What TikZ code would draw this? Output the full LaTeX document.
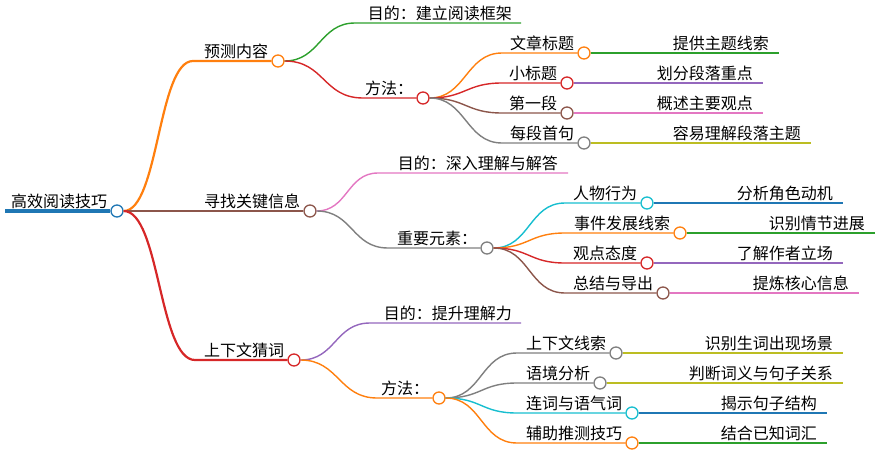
\documentclass[tikz,border=0pt]{standalone}
\usepackage{fontspec}
\setmainfont{Noto Sans CJK SC}
\usepackage{xcolor}
\usetikzlibrary{positioning}

\definecolor{tblue}{HTML}{1F77B4}
\definecolor{torange}{HTML}{FF7F0E}
\definecolor{tgreen}{HTML}{2CA02C}
\definecolor{tred}{HTML}{D62728}
\definecolor{tpurple}{HTML}{9467BD}
\definecolor{tbrown}{HTML}{8C564B}
\definecolor{tpink}{HTML}{E377C2}
\definecolor{tgray}{HTML}{7F7F7F}
\definecolor{tolive}{HTML}{BCBD22}
\definecolor{tcyan}{HTML}{17BECF}

\tikzset{
  dot/.style={circle, draw, fill=white, line width=1.3pt, minimum size=12pt, inner sep=0pt},
  txt/.style={inner sep=0pt, font=\fontsize{16pt}{18pt}\selectfont},
  lv1/.style={line width=2.2pt},
  lv2/.style={line width=1.4pt},
}

\begin{document}
\begin{tikzpicture}[x=1pt, y=-1pt]
\useasboundingbox (0,0) rectangle (880,466);

% Root
\coordinate (root-s) at (5,211);
\node[dot, draw=tblue] (root) at (117,211) {};
\node[txt, above left=2pt and 3pt of root.west] (root-t) {高效阅读技巧};
\draw[tblue, line width=4pt] (root-s) -- (root);

% Level 1
\node[dot, draw=torange] (yc) at (278,61) {};
\node[dot, draw=tbrown] (xz) at (310,211) {};
\node[dot, draw=tred] (sx) at (294,360) {};
\coordinate (yc-b) at (193,61);
\coordinate (sx-b) at (195,360);
\node[txt, above left=2pt and 3pt of yc.west] (yc-t) {预测内容};
\node[txt, above left=2pt and 3pt of xz.west] (xz-t) {寻找关键信息};
\node[txt, above left=2pt and 3pt of sx.west] (sx-t) {上下文猜词};
\draw[torange, lv1] (root.east) .. controls +(35,0) and +(-35,0) .. (yc-b) -- (yc);
\draw[tbrown, lv1] (root) -- (xz);
\draw[tred, lv1] (root.east) .. controls +(36,0) and +(-36,0) .. (sx-b) -- (sx);

% Predict content
\coordinate (yc-md-b) at (355,23);
\coordinate (yc-md-e) at (521,23);
\node[txt, above left=2pt and 9pt of yc-md-e] (yc-md) {目的：建立阅读框架};
\draw[tgreen, lv2] (yc.east) .. controls +(35,0) and +(-35,0) .. (yc-md-b) -- (yc-md-e);
\node[dot, draw=tred] (yc-ff) at (423,98) {};
\coordinate (yc-ff-b) at (363,98);
\node[txt, above left=2pt and 3pt of yc-ff.west] (yc-ff-t) {方法：};
\draw[tred, lv2] (yc.east) .. controls +(40,0) and +(-40,0) .. (yc-ff-b) -- (yc-ff);

\node[dot, draw=torange] (bt) at (584,53) {};
\node[dot, draw=tred] (xbt) at (567,83) {};
\node[dot, draw=tbrown] (dyd) at (567,113) {};
\node[dot, draw=tgray] (sj) at (584,143) {};
\coordinate (bt-b) at (502,53);
\coordinate (xbt-b) at (502,83);
\coordinate (dyd-b) at (502,113);
\coordinate (sj-b) at (502,143);
\node[txt, above left=2pt and 3pt of bt.west] (bt-t) {文章标题};
\node[txt, above left=2pt and 3pt of xbt.west] (xbt-t) {小标题};
\node[txt, above left=2pt and 3pt of dyd.west] (dyd-t) {第一段};
\node[txt, above left=2pt and 3pt of sj.west] (sj-t) {每段首句};
\draw[torange, lv2] (yc-ff.east) .. controls +(36,0) and +(-36,0) .. (bt-b) -- (bt);
\draw[tred, lv2] (yc-ff.east) .. controls +(36,0) and +(-36,0) .. (xbt-b) -- (xbt);
\draw[tbrown, lv2] (yc-ff.east) .. controls +(36,0) and +(-36,0) .. (dyd-b) -- (dyd);
\draw[tgray, lv2] (yc-ff.east) .. controls +(36,0) and +(-36,0) .. (sj-b) -- (sj);

\coordinate (bt-e) at (779,53);
\coordinate (xbt-e) at (763,83);
\coordinate (dyd-e) at (763,113);
\coordinate (sj-e) at (811,143);
\node[txt, above left=2pt and 10pt of bt-e] (bt-l) {提供主题线索};
\node[txt, above left=2pt and 10pt of xbt-e] (xbt-l) {划分段落重点};
\node[txt, above left=2pt and 10pt of dyd-e] (dyd-l) {概述主要观点};
\node[txt, above left=2pt and 10pt of sj-e] (sj-l) {容易理解段落主题};
\draw[tgreen, lv2] (bt) -- (bt-e);
\draw[tpurple, lv2] (xbt) -- (xbt-e);
\draw[tpink, lv2] (dyd) -- (dyd-e);
\draw[tolive, lv2] (sj) -- (sj-e);

% Find key information
\coordinate (xz-md-b) at (378,173);
\coordinate (xz-md-e) at (568,173);
\node[txt, above left=2pt and 10pt of xz-md-e] (xz-md) {目的：深入理解与解答};
\draw[tpink, lv2] (xz.east) .. controls +(31,0) and +(-31,0) .. (xz-md-b) -- (xz-md-e);
\node[dot, draw=tgray] (ys) at (487,248) {};
\coordinate (ys-b) at (388,248);
\node[txt, above left=2pt and 3pt of ys.west] (ys-t) {重要元素：};
\draw[tgray, lv2] (xz.east) .. controls +(36,0) and +(-36,0) .. (ys-b) -- (ys);

\node[dot, draw=tcyan] (rw) at (647,203) {};
\node[dot, draw=torange] (sjfz) at (680,233) {};
\node[dot, draw=tred] (gd) at (647,263) {};
\node[dot, draw=tbrown] (zj) at (663,293) {};
\coordinate (rw-b) at (565,203);
\coordinate (sjfz-b) at (565,233);
\coordinate (gd-b) at (565,263);
\coordinate (zj-b) at (565,293);
\node[txt, above left=2pt and 3pt of rw.west] (rw-t) {人物行为};
\node[txt, above left=2pt and 3pt of sjfz.west] (sjfz-t) {事件发展线索};
\node[txt, above left=2pt and 3pt of gd.west] (gd-t) {观点态度};
\node[txt, above left=2pt and 3pt of zj.west] (zj-t) {总结与导出};
\draw[tcyan, lv2] (ys.east) .. controls +(36,0) and +(-36,0) .. (rw-b) -- (rw);
\draw[torange, lv2] (ys.east) .. controls +(36,0) and +(-36,0) .. (sjfz-b) -- (sjfz);
\draw[tred, lv2] (ys.east) .. controls +(36,0) and +(-36,0) .. (gd-b) -- (gd);
\draw[tbrown, lv2] (ys.east) .. controls +(36,0) and +(-36,0) .. (zj-b) -- (zj);

\coordinate (rw-e) at (843,203);
\coordinate (sjfz-e) at (875,233);
\coordinate (gd-e) at (843,263);
\coordinate (zj-e) at (859,293);
\node[txt, above left=2pt and 10pt of rw-e] (rw-l) {分析角色动机};
\node[txt, above left=2pt and 10pt of sjfz-e] (sjfz-l) {识别情节进展};
\node[txt, above left=2pt and 10pt of gd-e] (gd-l) {了解作者立场};
\node[txt, above left=2pt and 10pt of zj-e] (zj-l) {提炼核心信息};
\draw[tblue, lv2] (rw) -- (rw-e);
\draw[tgreen, lv2] (sjfz) -- (sjfz-e);
\draw[tpurple, lv2] (gd) -- (gd-e);
\draw[tpink, lv2] (zj) -- (zj-e);

% Guess words from context
\coordinate (sx-md-b) at (370,323);
\coordinate (sx-md-e) at (521,323);
\node[txt, above left=2pt and 9pt of sx-md-e] (sx-md) {目的：提升理解力};
\draw[tpurple, lv2] (sx.east) .. controls +(35,0) and +(-35,0) .. (sx-md-b) -- (sx-md-e);
\node[dot, draw=torange] (sx-ff) at (439,398) {};
\coordinate (sx-ff-b) at (377,398);
\node[txt, above left=2pt and 3pt of sx-ff.west] (sx-ff-t) {方法：};
\draw[torange, lv2] (sx.east) .. controls +(38,0) and +(-38,0) .. (sx-ff-b) -- (sx-ff);

\node[dot, draw=tgray] (xs) at (616,353) {};
\node[dot, draw=tgray] (yj) at (600,383) {};
\node[dot, draw=tcyan] (lc) at (632,413) {};
\node[dot, draw=torange] (fz) at (632,443) {};
\coordinate (xs-b) at (517,353);
\coordinate (yj-b) at (517,383);
\coordinate (lc-b) at (517,413);
\coordinate (fz-b) at (517,443);
\node[txt, above left=2pt and 3pt of xs.west] (xs-t) {上下文线索};
\node[txt, above left=2pt and 3pt of yj.west] (yj-t) {语境分析};
\node[txt, above left=2pt and 3pt of lc.west] (lc-t) {连词与语气词};
\node[txt, above left=2pt and 3pt of fz.west] (fz-t) {辅助推测技巧};
\draw[tgray, lv2] (sx-ff.east) .. controls +(36,0) and +(-36,0) .. (xs-b) -- (xs);
\draw[tgray, lv2] (sx-ff.east) .. controls +(36,0) and +(-36,0) .. (yj-b) -- (yj);
\draw[tcyan, lv2] (sx-ff.east) .. controls +(36,0) and +(-36,0) .. (lc-b) -- (lc);
\draw[torange, lv2] (sx-ff.east) .. controls +(36,0) and +(-36,0) .. (fz-b) -- (fz);

\coordinate (xs-e) at (843,353);
\coordinate (yj-e) at (843,383);
\coordinate (lc-e) at (827,413);
\coordinate (fz-e) at (827,443);
\node[txt, above left=2pt and 10pt of xs-e] (xs-l) {识别生词出现场景};
\node[txt, above left=2pt and 10pt of yj-e] (yj-l) {判断词义与句子关系};
\node[txt, above left=2pt and 10pt of lc-e] (lc-l) {揭示句子结构};
\node[txt, above left=2pt and 10pt of fz-e] (fz-l) {结合已知词汇};
\draw[tolive, lv2] (xs) -- (xs-e);
\draw[tolive, lv2] (yj) -- (yj-e);
\draw[tblue, lv2] (lc) -- (lc-e);
\draw[tgreen, lv2] (fz) -- (fz-e);
\end{tikzpicture}
\end{document}
